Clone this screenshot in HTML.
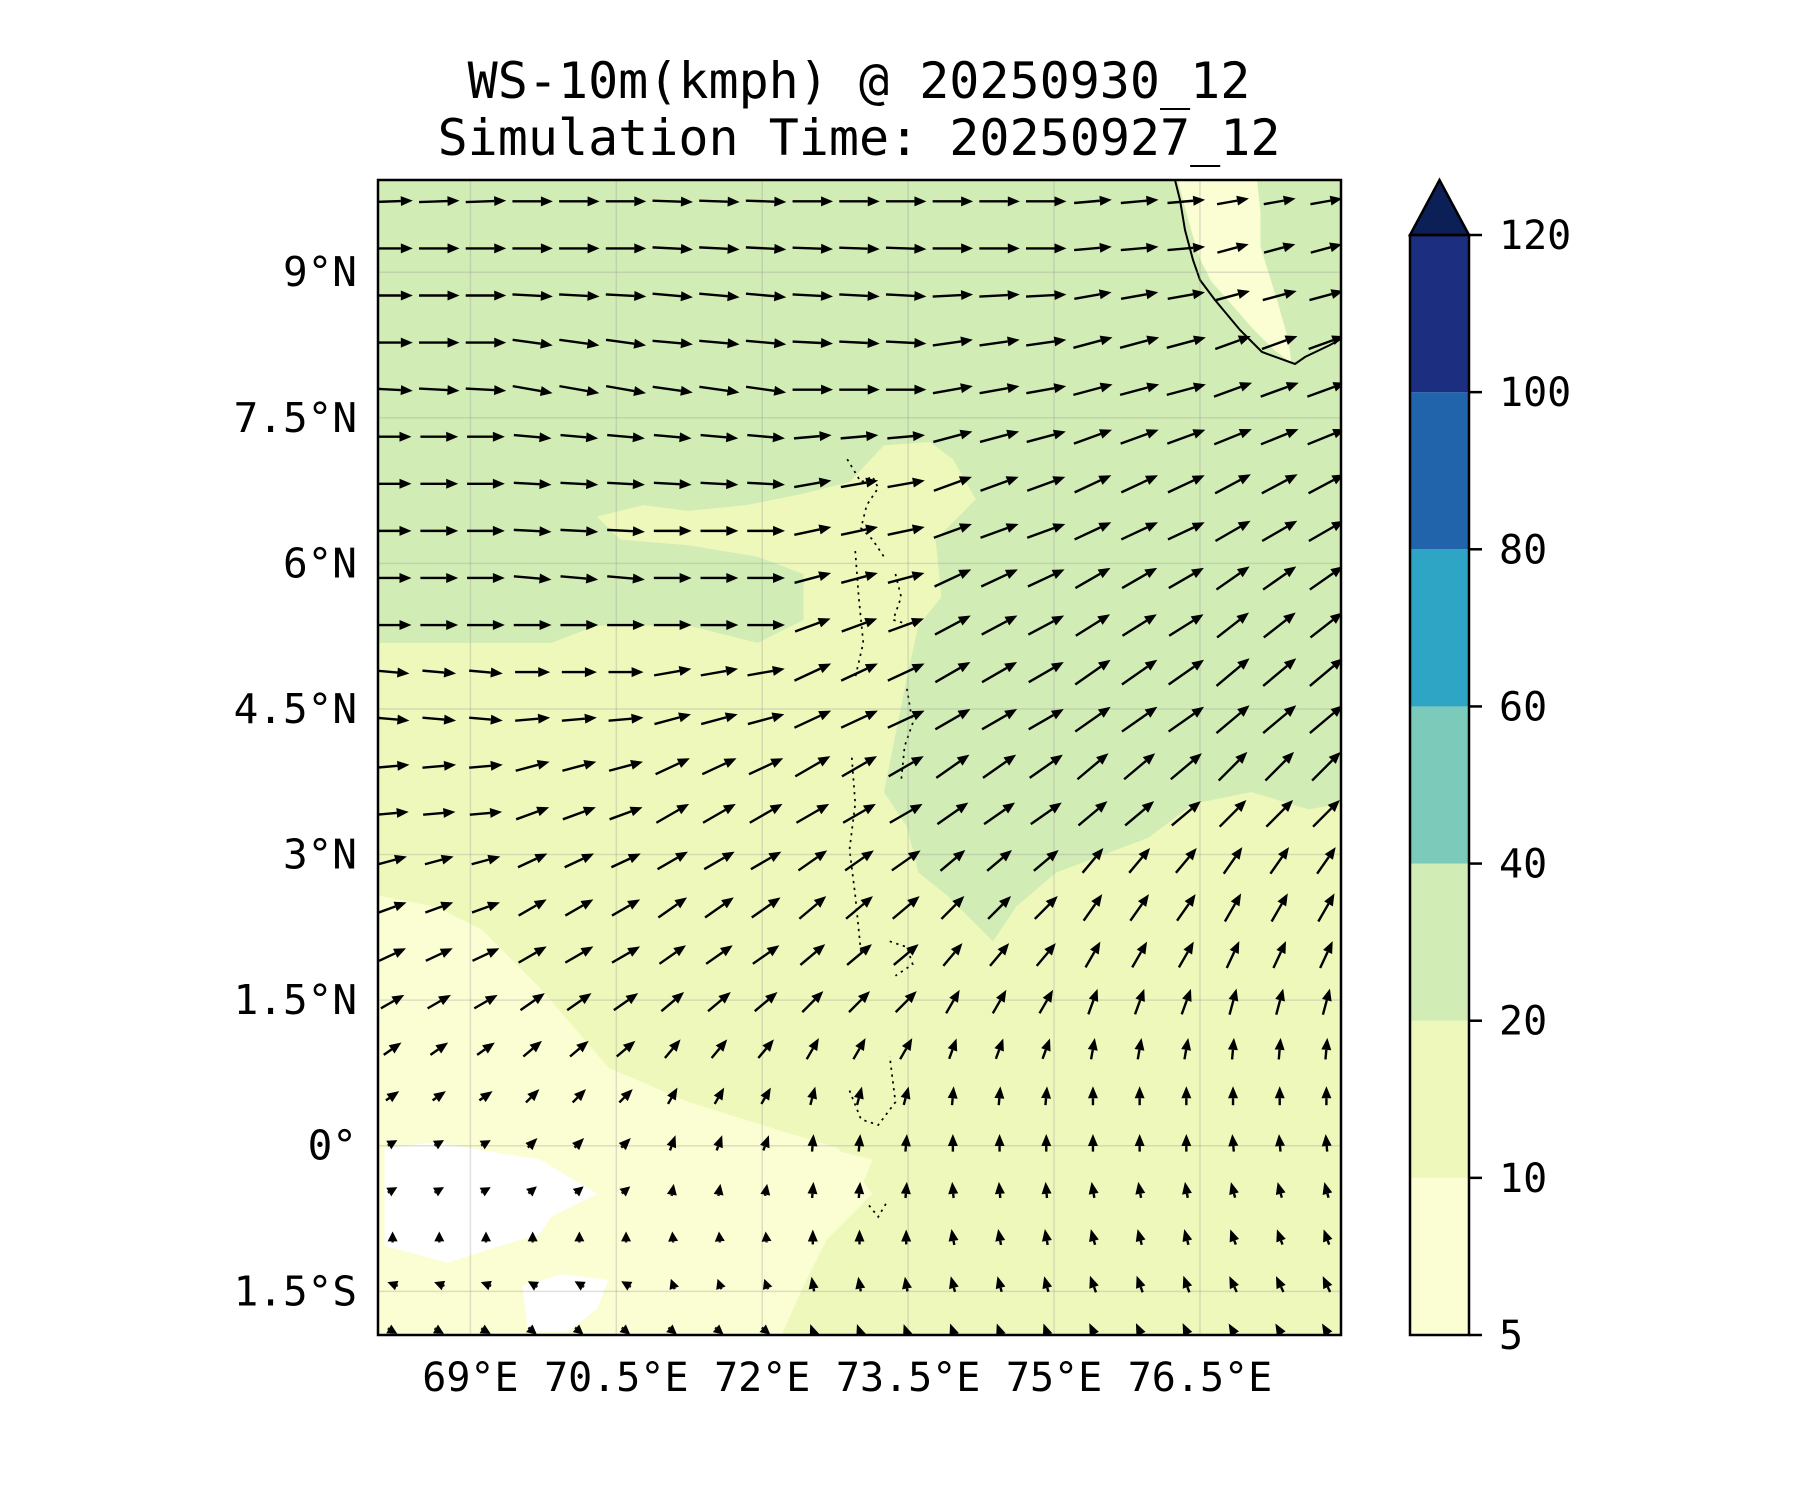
<!DOCTYPE html>
<html><head><meta charset="utf-8"><style>
html,body{margin:0;padding:0;background:#fff;}
svg text{font-family:"DejaVu Sans Mono","Liberation Mono",monospace;fill:#000;}
</style></head><body>
<svg id="chart" width="1800" height="1500" viewBox="0 0 1800 1500" xmlns="http://www.w3.org/2000/svg">
<text x="859" y="98" font-size="50" text-anchor="middle">WS-10m(kmph) @ 20250930_12</text>
<text x="859" y="155" font-size="50" text-anchor="middle">Simulation Time: 20250927_12</text>
<defs><clipPath id="mapclip"><rect x="378" y="180" width="963" height="1155"/></clipPath></defs>
<g clip-path="url(#mapclip)">
 <rect x="378" y="180" width="963" height="1155" fill="#eef8bb"/>
 <g transform="scale(1.148)">
  <polygon fill="#fbfdd3" points="329,780 380,790 420,810 470,860 530,930 600,960 680,985 730,1000 760,1040 720,1080 700,1120 680,1165 329,1165"/>
  <polygon fill="#fbfdd3" points="600,1000 700,995 760,1010 740,1060 700,1100 680,1165 560,1165 560,1080"/>
  <polygon fill="#ffffff" points="335,1000 380,995 420,1002 470,1010 520,1040 480,1060 470,1075 420,1090 390,1100 335,1085"/>
  <polygon fill="#ffffff" points="455,1120 490,1110 530,1115 520,1140 495,1160 460,1160"/>
  <polygon fill="#d1edb5" points="329,157 1168,157 1168,700 1140,705 1090,690 1040,700 1000,730 960,745 920,760 885,790 865,820 845,800 825,780 800,760 790,720 770,690 780,640 790,590 800,545 820,520 815,470 850,435 830,400 810,385 770,388 740,420 700,430 650,440 600,445 560,440 520,450 540,470 600,475 660,485 700,500 700,540 660,560 600,545 520,545 480,560 329,560"/>
  <polygon fill="#fbfdd3" points="1026,157 1095,157 1098,185 1098,215 1112,260 1122,295 1125,316 1110,305 1090,285 1070,262 1055,245 1045,225 1036,195"/>
 </g>
 <polyline fill="none" stroke="#000" stroke-width="2" points="1175,180 1180,200 1185,230 1193,260 1200,280 1215,300 1240,330 1262,352 1295,364 1305,357 1330,345 1341,339"/>
 <g transform="scale(1.148)">
  <g fill="none" stroke="#000" stroke-width="1.5" stroke-dasharray="2,4">
   <path d="M738,400 L750,420 L760,415 L765,425 L755,440 L750,460 L760,470 L770,485"/>
   <path d="M745,480 L748,520 L752,560 L745,590 M780,500 L785,520 L778,540 L795,545 L800,540"/>
   <path d="M790,600 L795,630 L788,650 L785,680 M742,660 L745,700 L740,740 L745,780 L750,830"/>
   <path d="M775,820 L790,825 L795,840 L780,850 M740,950 L750,975 L765,980 L780,960 L775,920"/>
   <path d="M757,1050 L765,1060 L772,1048"/>
  </g>
 </g>
 <g id="grid"></g>
 <g id="arrows"></g>
</g>
<rect x="378" y="180" width="963" height="1155" fill="none" stroke="#000" stroke-width="2.5"/>
<g id="xticks"></g>
<g id="yticks"></g>
<g id="colorbar"></g>
</svg>
<script>
const NS='http://www.w3.org/2000/svg';
const lonTicks=[69,70.5,72,73.5,75,76.5];
const lonTickLabels=['69°E','70.5°E','72°E','73.5°E','75°E','76.5°E'];
const latTicks=[-1.5,0,1.5,3,4.5,6,7.5,9];
const latTickLabels=['1.5°S','0°','1.5°N','3°N','4.5°N','6°N','7.5°N','9°N'];
const cbLevels=[5,10,20,40,60,80,100,120];
const cbColors=['#fbfdd3','#eef8bb','#d1edb5','#7ccaba','#2fa5c6','#2164ab','#1c2e80'];
const arrowLats=[9.73,9.245,8.76,8.275,7.79,7.305,6.82,6.335,5.85,5.365,4.88,4.395,3.91,3.425,2.94,2.455,1.97,1.485,1.0,0.515,0.03,-0.455,-0.94,-1.425,-1.91];
const arrowLons=[68.2,68.68,69.16,69.64,70.12,70.6,71.08,71.56,72.04,72.52,73.0,73.48,73.96,74.44,74.92,75.4,75.88,76.36,76.84,77.32,77.8];
// direction (deg, 0=east, 90=north) per row for 7 column groups
const rowDirections=[
[2,0,-2,0,0,5,10],[0,0,-3,-2,0,5,15],[0,-3,-5,-3,3,10,15],[0,-8,-5,-3,8,15,20],
[-3,-10,-8,0,10,15,20],[0,-5,-5,5,15,20,22],[0,-3,-3,10,20,25,28],[0,-3,0,12,20,25,30],
[0,-5,0,15,25,30,35],[0,0,0,20,28,32,38],[-5,0,10,25,30,35,40],[-5,5,15,25,30,35,40],
[5,15,25,30,35,40,45],[5,20,30,30,35,40,45],[15,25,30,35,40,50,55],[20,30,35,40,45,55,60],
[25,30,35,40,50,60,65],[30,35,40,45,60,70,75],[35,40,50,60,70,80,85],[35,45,60,75,85,90,90],
[30,45,70,85,90,90,95],[30,40,80,85,95,100,105],[90,90,95,90,100,105,110],
[160,150,110,100,105,110,115],[-30,-40,-40,110,110,115,120]];
// wind speed (kmph) per row for 7 column groups
const rowSpeeds=[
[30,30,30,30,30,28,24],[30,30,30,30,30,28,24],[30,30,30,30,30,28,26],[30,30,30,30,30,30,28],
[30,30,30,30,30,30,30],[28,28,28,28,30,30,30],[28,28,28,28,30,30,30],[28,28,28,28,30,30,30],
[28,28,28,28,30,30,30],[28,28,28,28,30,30,30],[25,26,28,30,30,32,32],[25,26,28,30,30,32,32],
[25,26,28,30,30,30,30],[24,26,28,28,28,28,28],[22,24,26,26,24,24,24],[22,24,26,26,24,24,24],
[22,24,24,24,22,22,22],[20,22,22,22,20,20,20],[16,18,18,18,16,16,16],[12,14,14,14,14,14,14],
[8,10,12,13,13,13,13],[6,6,9,12,12,12,12],[4,5,8,11,12,12,12],[4,4,8,11,12,13,13],[4,4,6,11,12,13,13]];

const LON0=68.05,LON1=77.95,LAT0=-1.95,LAT1=9.95,X0=378,X1=1341,Y0=180,Y1=1335;
const xS=lon=>X0+(lon-LON0)/(LON1-LON0)*(X1-X0);
const yS=lat=>Y1-(lat-LAT0)/(LAT1-LAT0)*(Y1-Y0);
const cbTop=235,cbBot=1335,cbL=1410,cbR=1469;
const cbY=i=>cbBot-i*(cbBot-cbTop)/(cbLevels.length-1);
function mk(tag,attrs,parent){const e=document.createElementNS(NS,tag);for(const k in attrs)e.setAttribute(k,attrs[k]);parent.appendChild(e);return e;}

const grid=document.getElementById('grid');
lonTicks.forEach(l=>{const e=mk('line',{x1:xS(l),x2:xS(l),y1:Y0,y2:Y1,stroke:'#999','stroke-opacity':0.3,'stroke-width':1.5},grid);

});
latTicks.forEach(l=>{const e=mk('line',{x1:X0,x2:X1,y1:yS(l),y2:yS(l),stroke:'#999','stroke-opacity':0.3,'stroke-width':1.5},grid);

});

const xt=document.getElementById('xticks');
lonTicks.forEach((l,i)=>{const t=mk('text',{x:xS(l),y:1391,'font-size':40,'text-anchor':'middle'},xt);t.textContent=lonTickLabels[i];

});
const yt=document.getElementById('yticks');
latTicks.forEach((l,i)=>{const t=mk('text',{x:357,y:yS(l)+14,'font-size':41,'text-anchor':'end'},yt);t.textContent=latTickLabels[i];

});

const ar=document.getElementById('arrows');
arrowLats.forEach((lat,r)=>{arrowLons.forEach((lon,c)=>{
 const gI=Math.min(6,Math.floor(c/3));
 const ang=rowDirections[r][gI]*Math.PI/180;
 const len=Math.max(11,rowSpeeds[r][gI]*1.35);
 const cx=xS(lon),cy=yS(lat);
 const dx=Math.cos(ang),dy=-Math.sin(ang);
 const x1=cx-dx*len/2,y1=cy-dy*len/2,x2=cx+dx*len/2,y2=cy+dy*len/2;
 const g=mk('g',{},ar);
 
 
 const h=Math.min(12,len*0.9),w=5;
 const bx=x2-dx*h,by=y2-dy*h;
 if(len>h+1) mk('line',{x1:x1,y1:y1,x2:bx,y2:by,stroke:'#000','stroke-width':2.4},g);
 mk('polygon',{points:`${x2},${y2} ${bx-dy*w},${by+dx*w} ${bx+dy*w},${by-dx*w}`,fill:'#000'},g);
});});

const cb=document.getElementById('colorbar');
cbColors.forEach((col,i)=>{const r=mk('rect',{x:cbL,y:cbY(i+1),width:cbR-cbL,height:cbY(i)-cbY(i+1),fill:col},cb);

});
const tri=mk('polygon',{points:`${cbL},${cbTop} ${cbR},${cbTop} ${(cbL+cbR)/2},180`,fill:'#0d1f57',stroke:'#000','stroke-width':2.5},cb);


mk('rect',{x:cbL,y:cbTop,width:cbR-cbL,height:cbBot-cbTop,fill:'none',stroke:'#000','stroke-width':2.5},cb);
cbLevels.forEach((v,i)=>{mk('line',{x1:cbR,x2:cbR+13,y1:cbY(i),y2:cbY(i),stroke:'#000','stroke-width':2.5},cb);
 const t=mk('text',{x:1499,y:cbY(i)+14,'font-size':40},cb);t.textContent=v;
 
 });
</script>
</body></html>
